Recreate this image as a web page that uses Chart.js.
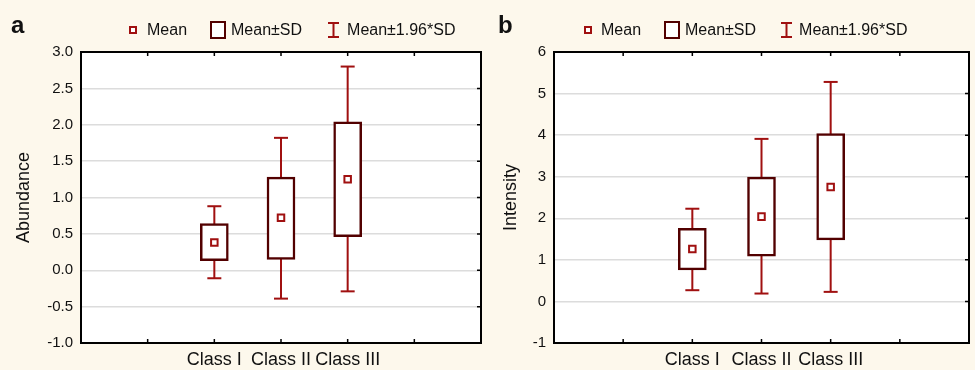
<!DOCTYPE html>
<html>
<head>
<meta charset="utf-8">
<script src="https://cdn.jsdelivr.net/npm/chart.js@4/dist/chart.umd.min.js"></script>
<style>
  body { margin: 0; background: #fdf8ec; font-family: "Liberation Sans", Arial, sans-serif; }
  #wrap { position: relative; width: 975px; height: 370px; overflow: hidden; }
  .panel { position: absolute; top: 0; height: 370px; }
  .tag { position: absolute; top: 13px; font-weight: bold; font-size: 24px; line-height: 24px; color: #111; }
  .legend { position: absolute; top: 20px; height: 20px; display: flex; align-items: center; font-size: 16px; line-height: 20px; color: #111; white-space: nowrap; }
  .mk { display: inline-block; width: 4px; height: 4px; border: 2px solid #a01010; background: #fff; }
  .bx { display: inline-block; width: 12px; height: 14px; border: 2px solid #520000; background: #fff; }
  .ib { display: inline-block; width: 13px; height: 16px; }
</style>
</head>
<body>
<div id="wrap">
  <div class="panel" style="left:0; width:487px;"><canvas id="chartA"></canvas></div>
  <div class="panel" style="left:487px; width:488px;"><canvas id="chartB"></canvas></div>
  <div class="tag" style="left:11px;">a</div>
  <div class="tag" style="left:498px;">b</div>
  <div class="legend" style="left:129px;">
    <span class="mk" style="margin-right:10px"></span><span>Mean</span>
    <span class="bx" style="margin-left:23px; margin-right:5px"></span><span>Mean±SD</span>
    <svg class="ib" style="margin-left:25px; margin-right:7px" viewBox="0 0 13 16"><path d="M1 1H12M6.5 1V15M1 15H12" stroke="#a01010" stroke-width="2" fill="none"/></svg><span>Mean±1.96*SD</span>
  </div>
  <div class="legend" style="left:584px;">
    <span class="mk" style="margin-right:9px"></span><span>Mean</span>
    <span class="bx" style="margin-left:23px; margin-right:5px"></span><span>Mean±SD</span>
    <svg class="ib" style="margin-left:24px; margin-right:6px" viewBox="0 0 13 16"><path d="M1 1H12M6.5 1V15M1 15H12" stroke="#a01010" stroke-width="2" fill="none"/></svg><span>Mean±1.96*SD</span>
  </div>
</div>
<script>
// categories, placed at x = 2, 3, 4 on a 0..6 axis
var classes = ['Class I', 'Class II', 'Class III'];
var classPos = [2, 3, 4];

// a: Abundance
var abMean  = [0.38, 0.72, 1.25];
var abSdLo  = [0.13, 0.15, 0.46];
var abSdHi  = [0.64, 1.28, 2.04];
var abCiLo  = [-0.11, -0.39, -0.29];
var abCiHi  = [0.88, 1.82, 2.80];
var abTicks = { min: -1, max: 3, step: 0.5 };

// b: Intensity
var inMean  = [1.26, 2.04, 2.75];
var inSdLo  = [0.76, 1.09, 1.48];
var inSdHi  = [1.76, 2.99, 4.04];
var inCiLo  = [0.27, 0.19, 0.23];
var inCiHi  = [2.23, 3.91, 5.28];
var inTicks = { min: -1, max: 6, step: 1 };

var boxColor = '#520000';
var redColor = '#a01010';
var fontFam = '"Liberation Sans", Arial, sans-serif';

var framePlugin = {
    id: 'frame',
    beforeDraw: function (chart) {
        // white plot area under the grid
        var a = chart.chartArea, ctx = chart.ctx;
        ctx.save();
        ctx.fillStyle = '#ffffff';
        ctx.fillRect(a.left, a.top, a.right - a.left, a.bottom - a.top);
        ctx.restore();
    },
    afterDraw: function (chart) {
        var a = chart.chartArea, ctx = chart.ctx;
        var xs = chart.scales.x, ys = chart.scales.y;
        ctx.save();
        ctx.strokeStyle = '#000';
        ctx.lineWidth = 1.5;
        ctx.beginPath();
        xs.ticks.forEach(function (t) {
            var px = xs.getPixelForValue(t.value);
            ctx.moveTo(px, a.bottom); ctx.lineTo(px, a.bottom - 4);
            ctx.moveTo(px, a.top); ctx.lineTo(px, a.top + 4);
        });
        ys.ticks.forEach(function (t) {
            var py = ys.getPixelForValue(t.value);
            ctx.moveTo(a.right, py); ctx.lineTo(a.right - 4, py);
        });
        ctx.stroke();
        ctx.lineWidth = 2;
        ctx.strokeRect(a.left, a.top, a.right - a.left, a.bottom - a.top);
        ctx.restore();
    }
};

function makeChart(id, title, mean, sdLo, sdHi, ciLo, ciHi, tk, axisWidth, decimals) {
    var whisker = [], caps = [], boxes = [], means = [];
    classPos.forEach(function (x, i) {
        whisker.push({ x: x, y: ciLo[i] }, { x: x, y: ciHi[i] }, { x: x, y: null });
        caps.push({ x: x, y: ciLo[i] }, { x: x, y: ciHi[i] });
        boxes.push({ x: x, y: [sdLo[i], sdHi[i]] });
        means.push({ x: x, y: mean[i] });
    });

    var ctx = document.getElementById(id).getContext('2d');
    return new Chart(ctx, {
        type: 'bar',
        data: {
            datasets: [{
                type: 'line',
                data: whisker,
                borderColor: redColor,
                borderWidth: 2,
                pointRadius: 0,
                spanGaps: false,
                order: 4
            }, {
                type: 'scatter',
                data: caps,
                pointStyle: 'line',
                pointRadius: 7,
                borderColor: redColor,
                borderWidth: 2,
                order: 3
            }, {
                type: 'bar',
                data: boxes,
                backgroundColor: '#ffffff',
                borderColor: boxColor,
                borderWidth: 2.5,
                borderSkipped: false,
                barThickness: 28,
                grouped: false,
                order: 2
            }, {
                type: 'scatter',
                data: means,
                pointStyle: 'rect',
                pointRadius: 4.6,
                borderColor: redColor,
                backgroundColor: '#ffffff',
                borderWidth: 2,
                order: 1
            }]
        },
        options: {
            responsive: true,
            maintainAspectRatio: false,
            animation: false,
            layout: { autoPadding: false, padding: { top: 52, right: 5, bottom: 0, left: 0 } },
            plugins: { legend: { display: false }, tooltip: { enabled: false } },
            scales: {
                x: {
                    type: 'linear',
                    min: 0, max: 6,
                    offset: false,
                    grid: { display: false, drawTicks: false },
                    border: { display: false },
                    afterFit: function (s) { s.height = 27; },
                    ticks: {
                        stepSize: 1,
                        autoSkip: false,
                        maxRotation: 0,
                        padding: 6,
                        color: '#111',
                        font: { family: fontFam, size: 18 },
                        callback: function (v) {
                            var i = classPos.indexOf(v);
                            return i >= 0 ? classes[i] : '';
                        }
                    }
                },
                y: {
                    min: tk.min, max: tk.max,
                    grid: { color: '#dcdcdc', lineWidth: 1.5, drawTicks: false },
                    border: { display: false },
                    afterFit: function (s) { s.width = axisWidth; },
                    title: {
                        display: true,
                        text: title,
                        color: '#111',
                        padding: { top: 13, bottom: 0 },
                        font: { family: fontFam, size: 18 }
                    },
                    ticks: {
                        stepSize: tk.step,
                        padding: 8,
                        color: '#111',
                        font: { family: fontFam, size: 15 },
                        callback: function (v) { return v.toFixed(decimals); }
                    }
                }
            }
        },
        plugins: [framePlugin]
    });
}

makeChart('chartA', 'Abundance', abMean, abSdLo, abSdHi, abCiLo, abCiHi, abTicks, 81, 1);
makeChart('chartB', 'Intensity', inMean, inSdLo, inSdHi, inCiLo, inCiHi, inTicks, 67, 0);
</script>
</body>
</html>
